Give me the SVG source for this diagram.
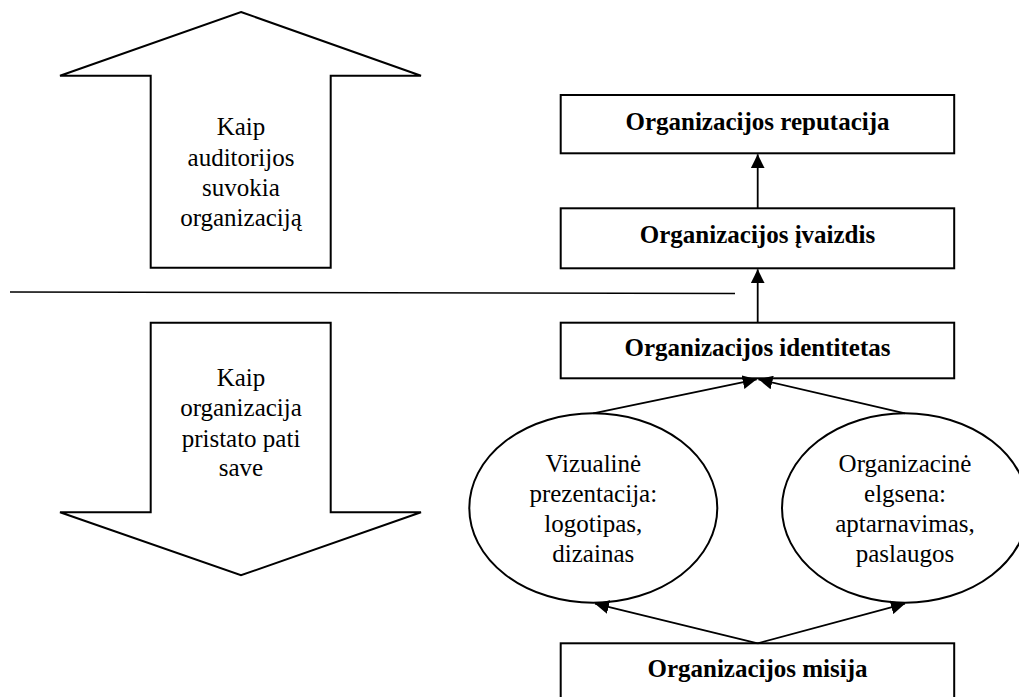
<svg xmlns="http://www.w3.org/2000/svg" width="1019" height="697" viewBox="0 0 1019 697">
  <style>
    .shape { fill: #fff; stroke: #000; stroke-width: 2; }
    .conn { fill: none; stroke: #000; stroke-width: 1.8; }
    .divider { fill: none; stroke: #000; stroke-width: 1.6; }
    text { font-family: 'Liberation Serif', 'Times New Roman', 'DejaVu Serif', serif; font-size: 25px; fill: #000; text-anchor: middle; }
    .bold { font-weight: bold; }
  </style>
  <defs>
    <marker id="arrow" viewBox="0 0 14 14" refX="14" refY="7" markerWidth="14" markerHeight="14" markerUnits="userSpaceOnUse" orient="auto">
      <path d="M0,0 L14,7 L0,14 Z" fill="#000"/>
    </marker>
  </defs>

  <rect width="1019" height="697" fill="#fff"/>

  <!-- Block arrows on the left -->
  <g id="arrow-up" font-family="Liberation Serif, serif">
    <polygon class="shape" points="241,12 421,75.7 330.7,75.7 330.7,267.7 150.7,267.7 150.7,75.7 60,75.7"/>
    <text x="241" y="135">Kaip</text>
    <text x="241" y="166">auditorijos</text>
    <text x="241" y="196">suvokia</text>
    <text x="241" y="226">organizaciją</text>
  </g>

  <g id="arrow-down" font-family="Liberation Serif, serif">
    <polygon class="shape" points="150.7,322.7 330.7,322.7 330.7,512.3 421,512.3 241,575.3 60,512.3 150.7,512.3"/>
    <text x="241" y="386">Kaip</text>
    <text x="241" y="416">organizacija</text>
    <text x="241" y="447">pristato pati</text>
    <text x="241" y="476">save</text>
  </g>

  <!-- Divider line -->
  <line id="divider" class="divider" x1="10" y1="292" x2="735" y2="293.5"/>

  <!-- Boxes -->
  <g id="reputacija">
    <rect class="shape" x="560.7" y="95" width="393.5" height="58.3"/>
    <text class="bold" x="757.5" y="129.5">Organizacijos reputacija</text>
  </g>

  <g id="ivaizdis">
    <rect class="shape" x="560.7" y="208.3" width="393.5" height="60"/>
    <text class="bold" x="757.5" y="243">Organizacijos įvaizdis</text>
  </g>

  <g id="identitetas">
    <rect class="shape" x="560.7" y="322.7" width="393.5" height="55.6"/>
    <text class="bold" x="757.5" y="356">Organizacijos identitetas</text>
  </g>

  <g id="vizualine">
    <ellipse class="shape" cx="593.3" cy="508" rx="124" ry="94.7"/>
    <text x="593.3" y="471.7">Vizualinė</text>
    <text x="593.3" y="501.7">prezentacija:</text>
    <text x="593.3" y="531.7">logotipas,</text>
    <text x="593.3" y="561.7">dizainas</text>
  </g>

  <g id="elgsena">
    <ellipse class="shape" cx="905" cy="508" rx="123" ry="94.7"/>
    <text x="905" y="471.7">Organizacinė</text>
    <text x="905" y="501.7">elgsena:</text>
    <text x="905" y="531.7">aptarnavimas,</text>
    <text x="905" y="561.7">paslaugos</text>
  </g>

  <g id="misija">
    <rect class="shape" x="560.7" y="643.3" width="393.5" height="70"/>
    <text class="bold" x="757.5" y="677">Organizacijos misija</text>
  </g>

  <!-- Connectors -->
  <g id="connectors">
    <line class="conn" x1="757.7" y1="208.3" x2="757.7" y2="154.3" marker-end="url(#arrow)"/>
    <line class="conn" x1="757.7" y1="322.7" x2="757.7" y2="269.3" marker-end="url(#arrow)"/>
    <line class="conn" x1="593.3" y1="413.3" x2="756.7" y2="379.3" marker-end="url(#arrow)"/>
    <line class="conn" x1="905" y1="413.3" x2="758.5" y2="379.3" marker-end="url(#arrow)"/>
    <line class="conn" x1="757.7" y1="643.3" x2="595" y2="603.7" marker-end="url(#arrow)"/>
    <line class="conn" x1="757.7" y1="643.3" x2="905" y2="603.7" marker-end="url(#arrow)"/>
  </g>
</svg>
